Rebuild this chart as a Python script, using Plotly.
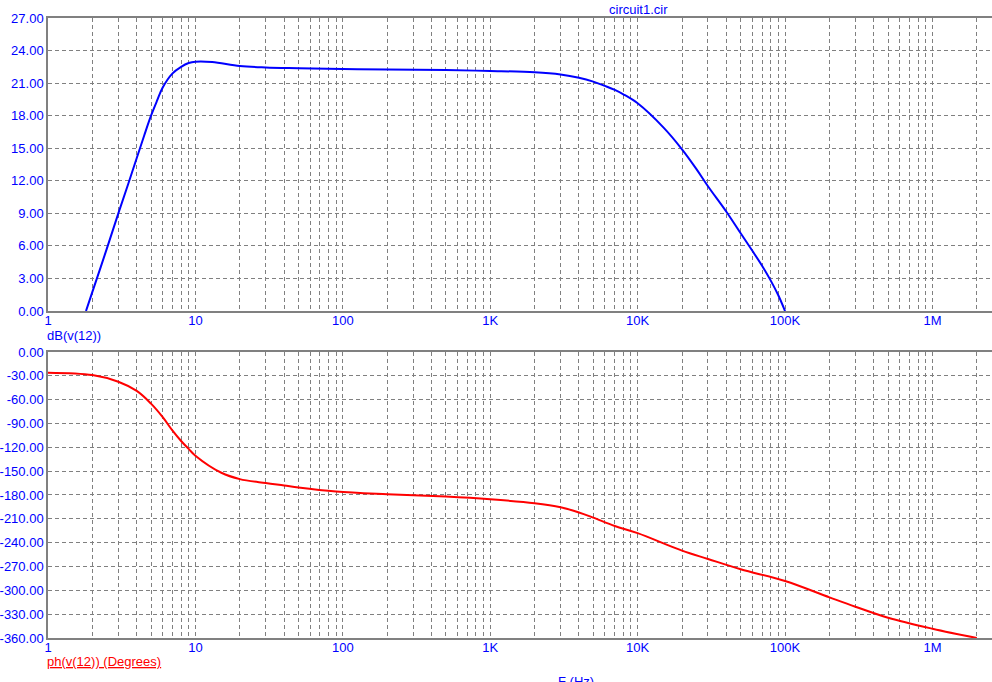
import plotly.graph_objects as go

# magnitude trace, dB(v(12))
freq_db = [1.81, 2, 2.5, 3, 3.5, 4, 4.5, 5, 5.5, 6, 7, 8, 9, 10, 13, 20, 30, 50,
           100, 200, 500, 1e3, 2e3, 3e3, 4e3, 5e3, 6e3, 7e3, 8e3, 1e4, 1.5e4, 2e4,
           2.5e4, 3e4, 4e4, 5e4, 6e4, 7e4, 8e4, 9e4, 1e5]
db = [0, 1.76, 5.7, 9.0, 11.7, 14.1, 16.2, 18.0, 19.4, 20.6, 21.9, 22.5, 22.85, 22.98,
      22.95, 22.58, 22.45, 22.38, 22.3, 22.25, 22.2, 22.12, 22.0, 21.8, 21.5, 21.14,
      20.74, 20.37, 19.97, 19.14, 16.9, 14.9, 13.1, 11.5, 9.15, 7.16, 5.55, 4.15, 2.8,
      1.45, 0]

# phase trace, ph(v(12))
freq_ph = [1, 2, 3, 4, 5, 6, 7, 8, 9, 10, 15, 20, 30, 40, 50, 90, 200, 500, 1e3,
           2e3, 3e3, 4e3, 5e3, 7e3, 1e4, 2e4, 3e4, 5e4, 1e5, 2e5, 3e5, 5e5, 1e6, 2e6]
ph = [-26, -29, -37.4, -49, -65, -82, -99, -112, -122, -130.5, -152, -160,
      -165, -168, -170.5, -175.5, -179, -182, -185.4, -190.4, -195.5, -202, -208.5,
      -219, -228, -250, -260.5, -273.5, -288.3, -308.8, -320.6, -334.5, -348.3, -360]

# x ticks: grid at every 1..9 per decade, labels only on decades
decade_labels = ["1", "10", "100", "1K", "10K", "100K", "1M"]
x_tickvals = [m * 10 ** d for d in range(7) for m in range(1, 10)]
x_ticktext = [decade_labels[d] if m == 1 else "" for d in range(7) for m in range(1, 10)]

db_ticks = list(range(0, 28, 3))
ph_ticks = list(range(-360, 1, 30))

BLUE = "#0000FF"
RED = "#FF0000"
GRID = "#808080"
FONT = "Arial, Liberation Sans, sans-serif"

fig = go.Figure()
fig.add_trace(go.Scatter(x=freq_db, y=db, mode="lines", line=dict(color=BLUE, width=2, shape="spline"),
                         xaxis="x", yaxis="y"))
fig.add_trace(go.Scatter(x=freq_ph, y=ph, mode="lines", line=dict(color=RED, width=2, shape="spline"),
                         xaxis="x2", yaxis="y2"))

xcommon = dict(
    type="log", range=[0, 6.404], tickvals=x_tickvals, ticktext=x_ticktext,
    showgrid=True, gridcolor=GRID, griddash="4px,3px", gridwidth=1,
    showline=True, linecolor=GRID, linewidth=1.5, mirror=True,
    ticks="", tickfont=dict(color=BLUE, size=13, family=FONT), zeroline=False,
    ticklabelstandoff=-3,
)
ycommon = dict(
    showgrid=True, gridcolor=GRID, griddash="4px,3px", gridwidth=1,
    showline=True, linecolor=GRID, linewidth=1.5,
    ticks="", tickfont=dict(color=BLUE, size=13, family=FONT), zeroline=False,
)

fig.update_layout(
    width=992, height=682,
    margin=dict(l=48, r=0, t=18, b=44, autoexpand=False),
    paper_bgcolor="white", plot_bgcolor="white",
    showlegend=False,
    xaxis=dict(domain=[0, 1], anchor="y", **xcommon),
    yaxis=dict(domain=[0.5274, 1.0], anchor="x", range=[0, 27],
               tickvals=db_ticks, ticktext=["%.2f" % v for v in db_ticks], **ycommon),
    xaxis2=dict(domain=[0, 1], anchor="y2", **xcommon),
    yaxis2=dict(domain=[0, 0.4613], anchor="x2", range=[-360, 0],
                tickvals=ph_ticks, ticktext=["%.2f" % v for v in ph_ticks], **ycommon),
    annotations=[
        dict(text="circuit1.cir", xref="paper", yref="paper", x=0.625, y=1.0, yanchor="bottom",
             xanchor="center", showarrow=False, font=dict(color=BLUE, size=13, family=FONT), yshift=-1),
        dict(text="dB(v(12))", xref="paper", yref="paper", x=0, y=0.4871, xanchor="left",
             yanchor="middle", showarrow=False, font=dict(color=BLUE, size=13, family=FONT), xshift=-3),
        dict(text="<u>ph(v(12)) (Degrees)</u>", xref="paper", yref="paper", x=0, y=-0.0387,
             xanchor="left", yanchor="middle", showarrow=False,
             font=dict(color=RED, size=13, family=FONT), xshift=-3),
        dict(text="F (Hz)", xref="paper", yref="paper", x=0.559, y=-0.0548, xanchor="center",
             yanchor="top", showarrow=False, font=dict(color=BLUE, size=13, family=FONT)),
    ],
)

# page body has a default 8px margin; drop it so the figure sits at the window corner
fig.write_html("out.html", config={"displayModeBar": False},
               post_script="document.body.style.margin='0px';")
